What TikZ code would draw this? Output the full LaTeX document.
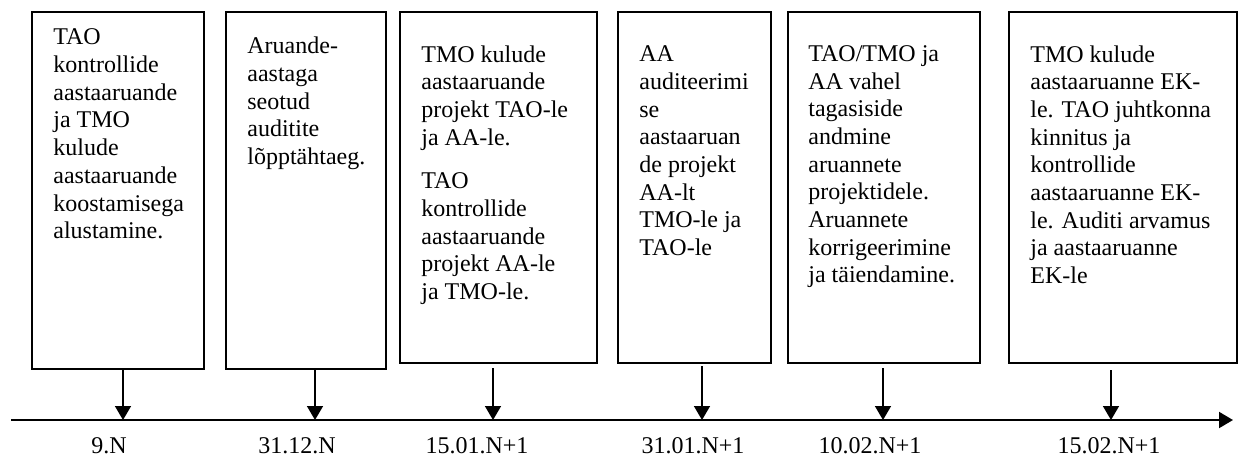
\documentclass[tikz,border=0pt]{standalone}
\usepackage{fontspec}
\setmainfont{Liberation Serif}
\usetikzlibrary{positioning,fit,arrows.meta}

\begin{document}
\begin{tikzpicture}[x=0.5pt, y=-0.5pt,
  box/.style={draw, line width=1pt, inner sep=0pt},
  txt/.style={anchor=north west, align=left, inner sep=0pt, font=\fontsize{12}{13.85}\selectfont},
  datum/.style={anchor=base, inner sep=0pt, font=\fontsize{12}{14}\selectfont},
  >={Triangle[length=7pt, width=8pt]}]
\useasboundingbox (0,0) rectangle (1239,457);
% kastid
\node[box, fit={(32,12) (204,369)}] (b1) {};
\node[box, fit={(226,12) (386,369)}] (b2) {};
\node[box, fit={(400,12) (597,363)}] (b3) {};
\node[box, fit={(618,12) (771,363)}] (b4) {};
\node[box, fit={(788,12) (980,363)}] (b5) {};
\node[box, fit={(1009,12) (1237,363)}] (b6) {};
% tekstid
\node[txt] (t1) at (53,28.5) {TAO\\kontrollide\\aastaaruande\\ja TMO\\kulude\\aastaaruande\\koostamisega\\alustamine.};
\node[txt] (t2) at (247,36.6) {Aruande-\\aastaga\\seotud\\auditite\\lõpptähtaeg.};
\node[txt] (t3) at (421,45) {TMO kulude\\aastaaruande\\projekt TAO-le\\ja AA-le.\\[8pt]TAO\\kontrollide\\aastaaruande\\projekt AA-le\\ja TMO-le.};
\node[txt] (t4) at (639,45.5) {AA\\auditeerimi\\se\\aastaaruan\\de projekt\\AA-lt\\TMO-le ja\\TAO-le};
\node[txt] (t5) at (808,45) {TAO/TMO ja\\AA vahel\\tagasiside\\andmine\\aruannete\\projektidele.\\Aruannete\\korrigeerimine\\ja täiendamine.};
\node[txt] (t6) at (1030,45) {TMO kulude\\aastaaruanne EK-\\le. TAO juhtkonna\\kinnitus ja\\kontrollide\\aastaaruanne EK-\\le. Auditi arvamus\\ja aastaaruanne\\EK-le};
% telg
\coordinate (algus) at (11,420);
\coordinate (lopp) at (1233,420);
\draw[->, line width=1pt] (algus) -- (lopp);
% kuupäevad
\foreach \n/\x/\lx/\gap/\kp in {1/123/109/0/9.N, 2/315/297/0/31.12.N, 3/493/477/2/15.01.N+1,
    4/702/693/1/31.01.N+1, 5/883/870/2/10.02.N+1, 6/1111/1109/3/15.02.N+1}{
  \coordinate (d\n) at (\x,420);
  \node[datum] (l\n) at (\lx,453) {\kp};
  \draw[->, line width=.75pt, shorten <=\gap pt] (b\n.south -| d\n) -- (d\n);
}
\end{tikzpicture}
\end{document}
